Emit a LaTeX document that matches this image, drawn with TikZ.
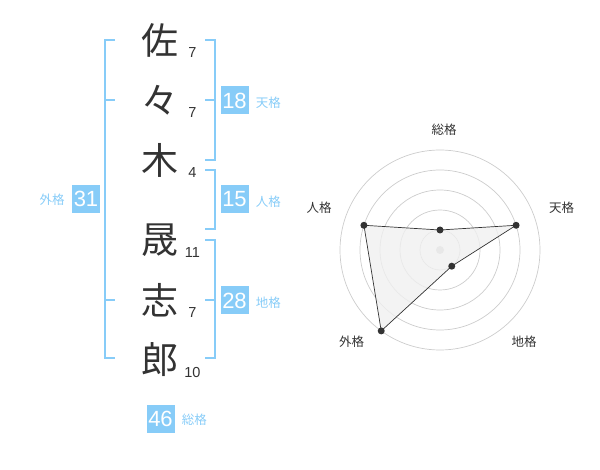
\documentclass[tikz,border=0pt]{standalone}
\usepackage{fontspec}
\setmainfont{Liberation Sans}
\newfontfamily\jp{Noto Sans CJK JP}
\usepackage{tikz}
\usetikzlibrary{positioning}

\definecolor{kakublue}{RGB}{135,204,248}
\definecolor{inkgray}{RGB}{51,51,51}
\definecolor{ringgray}{RGB}{204,204,204}
\definecolor{areagray}{RGB}{240,240,240}

\begin{document}
\begin{tikzpicture}[x=1pt,y=-1pt,
    kanji/.style={inner sep=0pt,text=inkgray,font=\jp\fontsize{37}{37}\selectfont},
    strokes/.style={inner sep=0pt,text=inkgray,font=\fontsize{14.5}{14.5}\selectfont},
    gradebox/.style={fill=kakublue,text=white,minimum size=28pt,inner sep=0pt,font=\fontsize{22}{22}\selectfont},
    gradelabel/.style={inner sep=0pt,text=kakublue,font=\jp\fontsize{12.5}{12.5}\selectfont},
    axislabel/.style={inner sep=0pt,text=inkgray,font=\jp\fontsize{12.5}{12.5}\selectfont},
    bracket/.style={draw=kakublue,line width=2pt},
    ring/.style={draw=ringgray,line width=0.7pt}]
    \useasboundingbox (0,0) rectangle (600,470);

    % name and stroke counts
    \node[kanji] (k1) at (160,40) {佐};
    \node[kanji] (k2) at (160,100) {々};
    \node[kanji] (k3) at (160,160) {木};
    \node[kanji] (k4) at (160,240) {晟};
    \node[kanji] (k5) at (160,300) {志};
    \node[kanji] (k6) at (160,360) {郎};
    \node[strokes] (s1) at (192.5,52.5) {7};
    \node[strokes] (s2) at (192.5,112.5) {7};
    \node[strokes] (s3) at (192.5,173) {4};
    \node[strokes] (s4) at (192.5,253) {11};
    \node[strokes] (s5) at (192.5,313) {7};
    \node[strokes] (s6) at (192.5,372.5) {10};

    % brackets
    \draw[bracket] (115,40)--(105,40)--(105,358)--(115,358);
    \draw[bracket] (105,100)--(115,100);
    \draw[bracket] (105,300)--(115,300);
    \draw[bracket] (205,40)--(215,40)--(215,160)--(205,160);
    \draw[bracket] (205,100)--(215,100);
    \draw[bracket] (205,170)--(215,170)--(215,229)--(205,229);
    \draw[bracket] (205,240)--(215,240)--(215,358)--(205,358);
    \draw[bracket] (205,300)--(215,300);

    % grades
    \node[gradebox] (ten) at (234.5,100.5) {18};
    \node[gradelabel,right=7pt of ten,yshift=-2.5pt] (tenl) {天格};
    \node[gradebox] (jin) at (234.5,199.5) {15};
    \node[gradelabel,right=7pt of jin,yshift=-2.5pt] (jinl) {人格};
    \node[gradebox] (chi) at (234.5,300.5) {28};
    \node[gradelabel,right=7pt of chi,yshift=-2.5pt] (chil) {地格};
    \node[gradebox] (gai) at (86,199) {31};
    \node[gradelabel,left=7pt of gai,yshift=-1pt] (gail) {外格};
    \node[gradebox] (sou) at (160.5,419) {46};
    \node[gradelabel,right=7pt of sou,yshift=-1pt] (soul) {総格};

    % radar chart
    \begin{scope}[shift={(440,250)}]
    \foreach \r in {20,40,...,100}
        \draw[ring] (0,0) circle (\r pt);
    \fill[ringgray] (0,0) circle (4pt);
    \coordinate (psou) at (90:20pt);
    \coordinate (pten) at (18:80pt);
    \coordinate (pchi) at (-54:20pt);
    \coordinate (pgai) at (-126:100pt);
    \coordinate (pjin) at (162:80pt);
    \draw[fill=areagray,fill opacity=0.8,draw=inkgray,line width=0.7pt]
        (psou)--(pten)--(pchi)--(pgai)--(pjin)--cycle;
    \foreach \p in {psou,pten,pchi,pgai,pjin}
        \fill[inkgray] (\p) circle (3.5pt);
    \node[axislabel] (asou) at (4,-120) {総格};
    \node[axislabel] (aten) at (121.5,-42) {天格};
    \node[axislabel] (ajin) at (-121,-42) {人格};
    \node[axislabel] (agai) at (-88.5,92) {外格};
    \node[axislabel] (achi) at (84,92) {地格};
    \end{scope}
\end{tikzpicture}
\end{document}
